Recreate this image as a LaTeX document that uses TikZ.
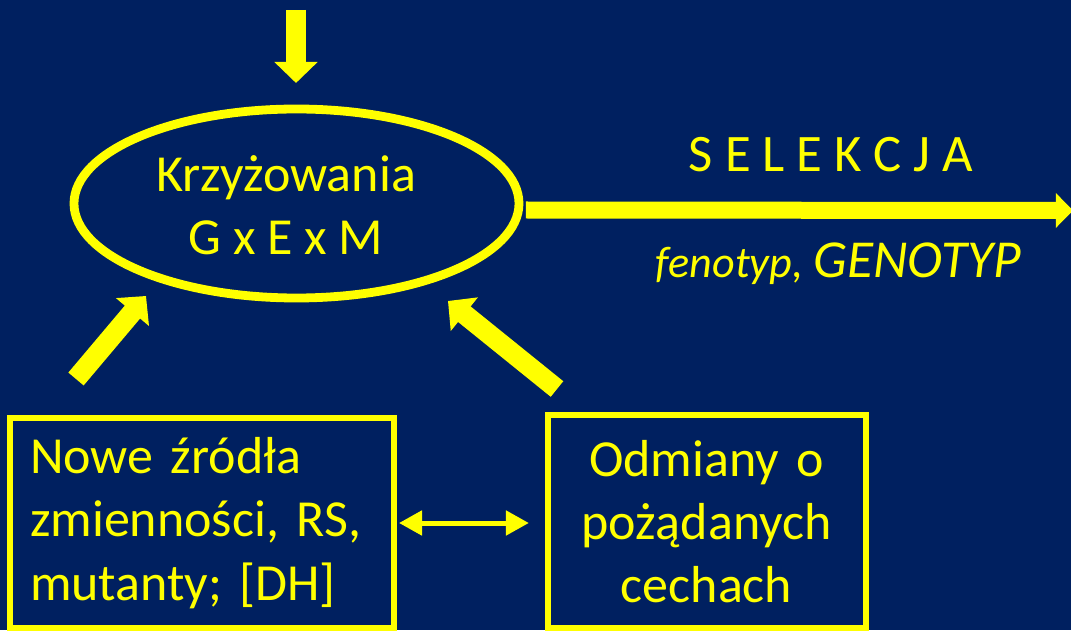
\documentclass[tikz,border=0pt]{standalone}
\usepackage{fontspec}
\setmainfont{Carlito}
\usetikzlibrary{arrows.meta,shapes.geometric}
\definecolor{navy}{RGB}{0,32,96}
\definecolor{yel}{RGB}{255,255,0}
\begin{document}
\begin{tikzpicture}[
  big/.style={font=\fontsize{37}{45}\selectfont},
  ybox/.style={draw=yel, line width=0.15cm, text=yel, big},
  fatarrow/.style={draw=yel, line width=0.5cm, -{Triangle[length=0.525cm,width=1.05cm]}},
  selarrow/.style={draw=yel, line width=0.425cm, -{Triangle[length=0.43cm,width=0.85cm]}},
  thinarrow/.style={draw=yel, line width=0.125cm, {Triangle[length=0.575cm,width=0.6cm]}-{Triangle[length=0.575cm,width=0.6cm]}},
]
\useasboundingbox (0,0) rectangle (26.775,15.75);
\fill[navy] (0,0) rectangle (26.775,15.75);
% crossing ellipse
\node[ellipse, draw=yel, line width=0.22cm, minimum width=11.125cm, minimum height=4.725cm] (kx) at (7.4125,10.6625) {};
\node[text=yel, big, align=center] (kxtxt) at (7.15,10.625) {Krzyżowania\\G x E x M};
% boxes
\node[ybox, align=left, text width=8.6cm, inner xsep=0.5cm, minimum width=9.6cm, minimum height=5.25cm] (nowe) at (5.05,2.675)
  {Nowe źródła\\zmienności, RS,\\mutanty; [DH]};
\node[ybox, align=center, text width=7.35cm, inner xsep=0.3cm, minimum width=7.95cm, minimum height=5.325cm] (odm) at (17.6625,2.7125)
  {Odmiany o\\pożądanych\\cechach};
% selection
\node[text=yel, font=\fontsize{37.5}{45}\selectfont, anchor=base] (sel) at (20.775,11.45) {S E L E K C J A};
\node[text=yel, anchor=base west] (feno) at (16.275,8.8)
  {\fontsize{31.4}{38}\selectfont\itshape fenotyp, \fontsize{38}{45}\selectfont GENOTYP};
% arrows
\coordinate (topin) at (7.4,15.5);
\coordinate (topout) at (7.4,13.675);
\coordinate (lt) at (1.9,6.275);
\coordinate (lh) at (3.65,8.35);
\coordinate (rt) at (13.925,6.025);
\coordinate (rh) at (11.2,8.225);
\coordinate (selend) at (26.825,10.4875);
\draw[fatarrow] (topin) -- (topout);
\draw[fatarrow] (lt) -- (lh);
\draw[fatarrow] (rt) -- (rh);
\draw[selarrow] ([shift={(0.0625,-0.1625)}]kx.east) -- (selend);
\draw[thinarrow, shorten <=0.05cm, shorten >=0.39cm] (nowe.east) -- (nowe.east -| odm.west);
\end{tikzpicture}
\end{document}
